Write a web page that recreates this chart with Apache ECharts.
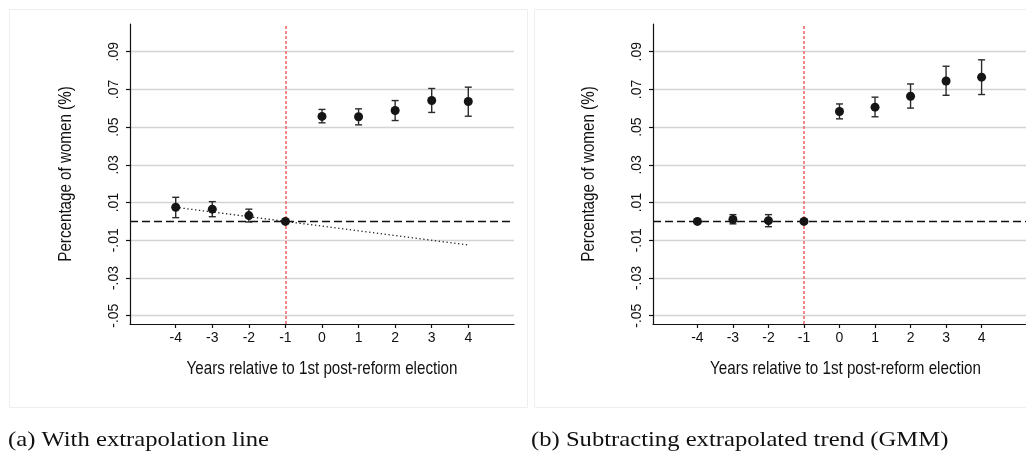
<!DOCTYPE html>
<html>
<head>
<meta charset="utf-8">
<script src="https://cdn.jsdelivr.net/npm/echarts@6/dist/echarts.min.js"></script>
<style>
  html, body { margin: 0; padding: 0; background: #ffffff; }
  #chart { width: 1026px; height: 453px; }
</style>
</head>
<body>
<div id="chart"></div>
<script>
// Event-study estimates: years relative to the 1st post-reform election
const years = [-4, -3, -2, -1, 0, 1, 2, 3, 4];

// (a) raw estimates with 95% CI
const estA  = [0.0075, 0.0065, 0.0031, 0.0000, 0.0557, 0.0555, 0.0588, 0.0641, 0.0636];
const lowA  = [0.0020, 0.0025, -0.0003, null, 0.0523, 0.0512, 0.0535, 0.0578, 0.0558];
const highA = [0.0128, 0.0105, 0.0065, null, 0.0594, 0.0597, 0.0641, 0.0705, 0.0712];

// pre-trend extrapolation line for (a)
const trendYears  = [-4, 4];
const trendValues = [0.0075, -0.0125];

// (b) estimates after subtracting the extrapolated trend (GMM)
const estB  = [0.0000, 0.0010, 0.0004, 0.0000, 0.0583, 0.0606, 0.0664, 0.0745, 0.0765];
const lowB  = [null, -0.0013, -0.0028, null, 0.0544, 0.0555, 0.0601, 0.0669, 0.0673];
const highB = [null, 0.0036, 0.0036, null, 0.0623, 0.0659, 0.0729, 0.0823, 0.0857];

// axis ticks
const yTicks = [-0.05, -0.03, -0.01, 0.01, 0.03, 0.05, 0.07, 0.09];
const xTicks = years;
const reformYear = -1;

const yTitle = 'Percentage of women (%)';
const xTitle = 'Years relative to 1st post-reform election';
const captionA = '(a) With extrapolation line';
const captionB = '(b) Subtracting extrapolated trend (GMM)';

const axisFont = '"Liberation Sans", Arial, sans-serif';

function fmtY(v) {
  const s = Math.abs(v).toFixed(2).replace(/^0/, '');
  return (v < 0 ? '-' : '') + s;
}

function pairs(xs, ys) { return xs.map((x, i) => [x, ys[i]]); }
function ciRows(xs, lo, hi) {
  const rows = [];
  xs.forEach((x, i) => { if (lo[i] != null && hi[i] != null) rows.push([x, lo[i], hi[i]]); });
  return rows;
}

function makeXAxis(gridIndex) {
  return {
    type: 'value', gridIndex: gridIndex,
    min: -5.25, max: 5.25,
    axisLine: { onZero: false, lineStyle: { color: '#111', width: 1.2 } },
    axisTick: { show: true, length: 4, lineStyle: { color: '#111', width: 1.2 }, customValues: xTicks },
    axisLabel: { fontFamily: axisFont, fontSize: 14, color: '#111', margin: 7, customValues: xTicks,
                 formatter: v => String(v) },
    splitLine: { show: false }
  };
}

function makeYAxis(gridIndex) {
  return {
    type: 'value', gridIndex: gridIndex,
    min: -0.0544, max: 0.1047,
    axisLine: { onZero: false, lineStyle: { color: '#111', width: 1.2 } },
    axisTick: { show: true, length: 4, lineStyle: { color: '#111', width: 1.2 }, customValues: yTicks },
    axisLabel: { fontFamily: axisFont, fontSize: 14, color: '#111', margin: 9, rotate: 90,
                 customValues: yTicks, formatter: fmtY },
    splitLine: { show: true, lineStyle: { color: '#d4d4d4', width: 1.3 } }
  };
}

function errorBarSeries(idx, rows) {
  return {
    type: 'custom', xAxisIndex: idx, yAxisIndex: idx, z: 3,
    data: rows,
    renderItem: function (params, api) {
      const x = api.value(0);
      const lo = api.coord([x, api.value(1)]);
      const hi = api.coord([x, api.value(2)]);
      const cap = 3.5;
      const style = { stroke: '#2a2a2a', lineWidth: 1.4 };
      return {
        type: 'group',
        children: [
          { type: 'line', shape: { x1: lo[0], y1: lo[1], x2: hi[0], y2: hi[1] }, style: style },
          { type: 'line', shape: { x1: hi[0] - cap, y1: hi[1], x2: hi[0] + cap, y2: hi[1] }, style: style },
          { type: 'line', shape: { x1: lo[0] - cap, y1: lo[1], x2: lo[0] + cap, y2: lo[1] }, style: style }
        ]
      };
    }
  };
}

function pointSeries(idx, ys) {
  return {
    type: 'scatter', xAxisIndex: idx, yAxisIndex: idx, z: 5,
    data: pairs(years, ys),
    symbol: 'circle', symbolSize: 9,
    itemStyle: { color: '#151515', opacity: 1 },
    markLine: {
      silent: true, symbol: 'none', label: { show: false },
      data: [
        { yAxis: 0, lineStyle: { color: '#111', type: [8, 4], width: 1.4 } },
        { xAxis: reformYear, lineStyle: { color: '#f06a6a', type: [3, 2], width: 1.6 } }
      ]
    }
  };
}

// condensed axis titles (narrow sans look)
function titleText(text, x, y, rotated) {
  return {
    type: 'text', x: x, y: y, rotation: rotated ? Math.PI / 2 : 0, scaleX: 0.82,
    silent: true,
    style: { text: text, font: '18.5px "Liberation Sans", Arial, sans-serif', fill: '#111',
             align: 'center', verticalAlign: 'middle' }
  };
}

const chart = echarts.init(document.getElementById('chart'), null, { renderer: 'canvas' });

chart.setOption({
  backgroundColor: '#ffffff',
  animation: false,
  grid: [
    { left: 130, top: 24, width: 384, height: 300, show: false },
    { left: 653, top: 24, width: 385, height: 300, show: false }
  ],
  xAxis: [makeXAxis(0), makeXAxis(1)],
  yAxis: [makeYAxis(0), makeYAxis(1)],
  series: [
    {
      type: 'line', xAxisIndex: 0, yAxisIndex: 0, z: 2,
      data: pairs(trendYears, trendValues),
      showSymbol: false, symbol: 'none',
      lineStyle: { color: '#222', width: 1.3, type: [1.3, 2.6] }
    },
    errorBarSeries(0, ciRows(years, lowA, highA)),
    pointSeries(0, estA),
    errorBarSeries(1, ciRows(years, lowB, highB)),
    pointSeries(1, estB)
  ],
  graphic: [
    { type: 'rect', shape: { x: 9.5, y: 9.5, width: 518, height: 398 },
      style: { fill: 'none', stroke: '#eeeeee', lineWidth: 1 }, silent: true, z: -1 },
    { type: 'rect', shape: { x: 534.5, y: 9.5, width: 500, height: 398 },
      style: { fill: 'none', stroke: '#eeeeee', lineWidth: 1 }, silent: true, z: -1 },
    titleText(yTitle, 66, 174, true),
    titleText(xTitle, 322, 369, false),
    titleText(yTitle, 589, 174, true),
    titleText(xTitle, 845.5, 369, false),
    { type: 'text', x: 8, y: 440, scaleX: 1.12,
      style: { text: captionA, font: '22px "Liberation Serif", serif', fill: '#111',
               align: 'left', verticalAlign: 'middle' } },
    { type: 'text', x: 531, y: 440, scaleX: 1.12,
      style: { text: captionB, font: '22px "Liberation Serif", serif', fill: '#111',
               align: 'left', verticalAlign: 'middle' } }
  ]
});
</script>
</body>
</html>
